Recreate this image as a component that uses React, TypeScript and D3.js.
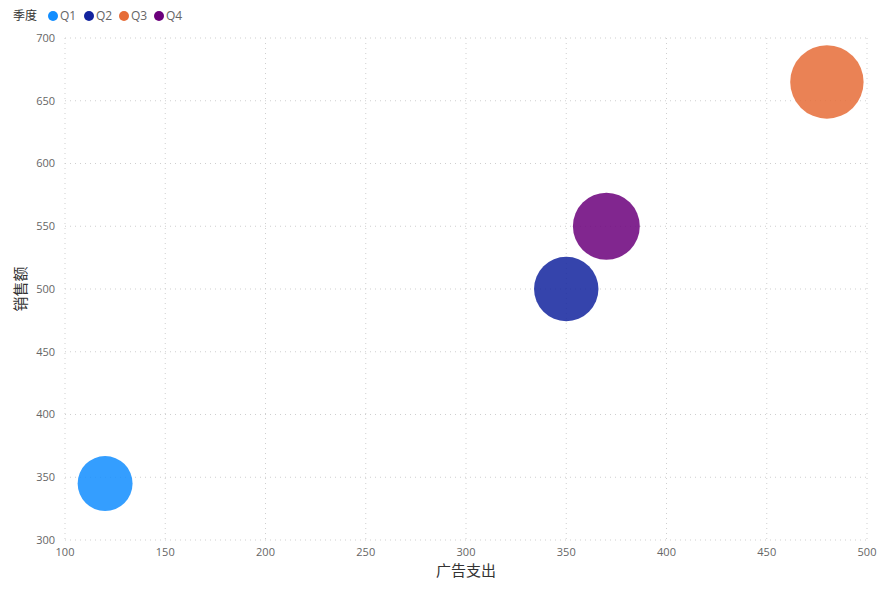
import React from "react";
import * as d3 from "d3";

const quarters = ["Q1", "Q2", "Q3", "Q4"];
const adSpend = [120, 350, 480, 370];
const sales = [345, 500, 665, 550];
const bubbleSize = [56, 77, 100, 83];
const colors = ["#118DFF", "#12239E", "#E66C37", "#6B007B"];
const xTicks = [100, 150, 200, 250, 300, 350, 400, 450, 500];
const yTicks = [300, 350, 400, 450, 500, 550, 600, 650, 700];

const W = 891;
const H = 592;
const FONT = "'Open Sans', 'Noto Sans CJK SC', sans-serif";

export default function App() {
  const x = d3.scaleLinear().domain([100, 500]).range([65, 867]);
  const y = d3.scaleLinear().domain([300, 700]).range([540, 38]);
  const r = d3.scaleSqrt().domain([0, 100]).range([0, 36.7]);

  const legendX = [53, 89, 124, 159];

  return (
    <div style={{ position: "fixed", left: 0, top: 0 }}>
      <svg width={W} height={H} style={{ display: "block", background: "#fff" }}>
        {/* grid */}
        <g stroke="#cfcfcf" strokeWidth={1} strokeDasharray="1 4" fill="none">
          {xTicks.map((t) => (
            <line key={"gx" + t} x1={x(t)} x2={x(t)} y1={y(700)} y2={y(300)} />
          ))}
          {yTicks.map((t) => (
            <line key={"gy" + t} x1={x(100)} x2={x(500)} y1={y(t)} y2={y(t)} />
          ))}
        </g>

        {/* tick labels */}
        <g fontFamily={FONT} fontSize={11} fill="#666">
          {yTicks.map((t) => (
            <text key={"ty" + t} x={55} y={y(t)} dy="0.35em" textAnchor="end">
              {t}
            </text>
          ))}
          {xTicks.map((t) => (
            <text key={"tx" + t} x={x(t)} y={556} textAnchor="middle">
              {t}
            </text>
          ))}
        </g>

        {/* axis titles */}
        <text x={(x(100) + x(500)) / 2} y={576} textAnchor="middle" fontFamily={FONT} fontSize={15} fill="#333">
          广告支出
        </text>
        <text
          transform={`translate(26, ${(y(300) + y(700)) / 2}) rotate(-90)`}
          textAnchor="middle"
          fontFamily={FONT}
          fontSize={15}
          fill="#333"
        >
          销售额
        </text>

        {/* bubbles */}
        {quarters.map((q, i) => (
          <circle
            key={q}
            cx={x(adSpend[i])}
            cy={y(sales[i])}
            r={r(bubbleSize[i])}
            fill={colors[i]}
            fillOpacity={0.85}
          />
        ))}

        {/* legend */}
        <g fontFamily={FONT} fontSize={12}>
          <text x={13} y={20} fill="#333">
            季度
          </text>
          {quarters.map((q, i) => (
            <g key={"lg" + q}>
              <circle cx={legendX[i]} cy={16} r={5} fill={colors[i]} />
              <text x={legendX[i] + 7} y={20} fill="#666">
                {q}
              </text>
            </g>
          ))}
        </g>
      </svg>
    </div>
  );
}
